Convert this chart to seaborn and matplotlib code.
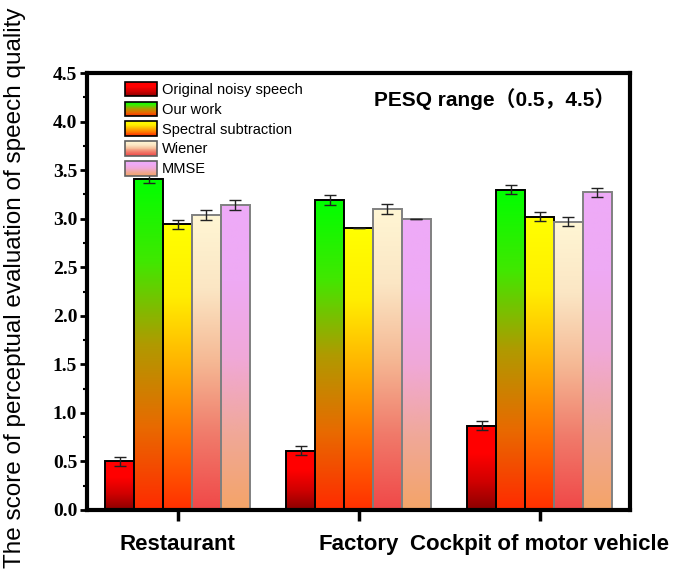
import numpy as np
import pandas as pd
import matplotlib
matplotlib.use("Agg")
import matplotlib.pyplot as plt
import seaborn as sns
from matplotlib.colors import LinearSegmentedColormap
from matplotlib.patches import Rectangle, Patch
from matplotlib.legend_handler import HandlerBase
from matplotlib.ticker import MultipleLocator

# ---- data ----
categories = ["Restaurant", "Factory", "Cockpit of motor vehicle"]
methods = ["Original noisy speech", "Our work", "Spectral subtraction", "Wiener", "MMSE"]
original = [0.50, 0.61, 0.87]
our_work = [3.41, 3.19, 3.30]
spectral = [2.94, 2.90, 3.02]
wiener = [3.04, 3.10, 2.97]
mmse = [3.14, 3.00, 3.27]
original_err = [0.045, 0.047, 0.05]
our_work_err = [0.045, 0.05, 0.048]
spectral_err = [0.05, 0.0, 0.048]
wiener_err = [0.05, 0.055, 0.05]
mmse_err = [0.05, 0.0, 0.05]
y_ticks = [0.0, 0.5, 1.0, 1.5, 2.0, 2.5, 3.0, 3.5, 4.0, 4.5]

values = [original, our_work, spectral, wiener, mmse]
errors = [original_err, our_work_err, spectral_err, wiener_err, mmse_err]

rows = []
for m, vals in zip(methods, values):
    for c, v in zip(categories, vals):
        rows.append({"category": c, "method": m, "score": v})
df = pd.DataFrame(rows)

# gradient colours, bottom -> top
grad_stops = [
    ["#8a0000", "#d00000", "#ff0000", "#ff0000"],
    ["#ff2a00", "#e86a00", "#b09a00", "#40e800", "#00ff00"],
    ["#ff3000", "#ff7000", "#ffb000", "#ffee00", "#ffff00"],
    ["#f04848", "#f07a6a", "#f5b894", "#fbe6c4", "#fff6d4"],
    ["#f4a468", "#f0a898", "#f0a8d8", "#eeaaf4", "#eeaaf8"],
]
edge_colors = ["black", "black", "black", "#808080", "#808080"]
cmaps = [LinearSegmentedColormap.from_list(f"g{i}", s) for i, s in enumerate(grad_stops)]

sns.set_theme(style="white")
plt.rcParams["font.family"] = ["Liberation Sans", "Noto Sans CJK SC", "DejaVu Sans"]
plt.rcParams["text.color"] = "black"
plt.rcParams["axes.labelcolor"] = "black"
plt.rcParams["xtick.color"] = "black"
plt.rcParams["ytick.color"] = "black"

fig = plt.figure(figsize=(6.97, 5.75), dpi=100)
ax = fig.add_axes([87 / 697, 1 - 510 / 575, (630 - 87) / 697, (510 - 73) / 575])

sns.barplot(data=df, x="category", y="score", hue="method", order=categories,
            hue_order=methods, errorbar=None, width=0.8, legend=False, ax=ax,
            saturation=1)

xlim = (-0.5, 2.5)
ylim = (0, 4.5)
grad = np.linspace(0, 1, 256).reshape(-1, 1)
bar_containers = list(ax.containers)
for i, cont in enumerate(bar_containers):
    xs = []
    for j, p in enumerate(cont.patches):
        x0 = p.get_x(); w = p.get_width(); h = p.get_height()
        ax.imshow(grad, cmap=cmaps[i], origin="lower", aspect="auto",
                  extent=[x0, x0 + w, 0, h], zorder=1, interpolation="bilinear")
        p.set_facecolor("none")
        p.set_edgecolor(edge_colors[i])
        p.set_linewidth(1.4)
        p.set_zorder(2)
        xs.append(x0 + w / 2)
    ax.errorbar(xs, values[i], yerr=errors[i], fmt="none", ecolor="#222222",
                elinewidth=1.0, capsize=4.5, capthick=1.0, zorder=3)

ax.set_xlim(*xlim)
ax.set_ylim(*ylim)
ax.set_yticks(y_ticks)
ax.set_yticklabels([f"{t:.1f}" for t in y_ticks], fontfamily="Liberation Serif",
                   fontweight="bold", fontsize=14)
ax.yaxis.set_minor_locator(MultipleLocator(0.25))
ax.set_xticks(range(len(categories)))
ax.set_xticklabels(categories, fontsize=16, fontweight="bold")
ax.tick_params(axis="y", which="major", direction="out", length=5, width=2, pad=2,
               left=True, colors="black")
ax.tick_params(axis="y", which="minor", direction="out", length=3, width=1.5, left=True)
ax.tick_params(axis="x", which="major", direction="out", length=8, width=2.5, pad=9,
               bottom=True, colors="black")
for s in ax.spines.values():
    s.set_linewidth(3)
    s.set_color("black")
ax.set_xlabel("")
ax.set_ylabel("")

fig.text(15 / 697, 0.5, "The score of perceptual evaluation of speech quality",
         rotation=90, ha="center", va="center", fontsize=17.5, color="black")

ax.text(0.972, 0.9405, "PESQ range\uff080.5\uff0c4.5\uff09", transform=ax.transAxes,
        ha="right", va="center", fontsize=15, fontweight="bold",
        family=["Liberation Sans", "Noto Sans CJK SC"])


class GradHandler(HandlerBase):
    def __init__(self, cmap, edge):
        super().__init__()
        self.cmap = cmap
        self.edge = edge

    def create_artists(self, legend, orig_handle, xdescent, ydescent, width, height,
                       fontsize, trans):
        n = 30
        arts = []
        for k in range(n):
            r = Rectangle((-xdescent, -ydescent + height * k / n), width, height / n * 1.05,
                          facecolor=self.cmap((k + 0.5) / n), edgecolor="none",
                          transform=trans)
            arts.append(r)
        arts.append(Rectangle((-xdescent, -ydescent), width, height, facecolor="none",
                              edgecolor=self.edge, lw=1.2, transform=trans))
        return arts


handles = [Patch(label=m) for m in methods]
hmap = {h: GradHandler(cmaps[i], edge_colors[i] if i < 3 else "#606060")
        for i, h in enumerate(handles)}
ax.legend(handles=handles, labels=methods, handler_map=hmap, loc="upper left",
          bbox_to_anchor=(0.07, 0.98), frameon=False, fontsize=10.5, borderpad=0,
          handlelength=2.2, handleheight=1.15, labelspacing=0.32, handletextpad=0.35,
          borderaxespad=0)

fig.savefig("out.png", dpi=100, facecolor="white")
